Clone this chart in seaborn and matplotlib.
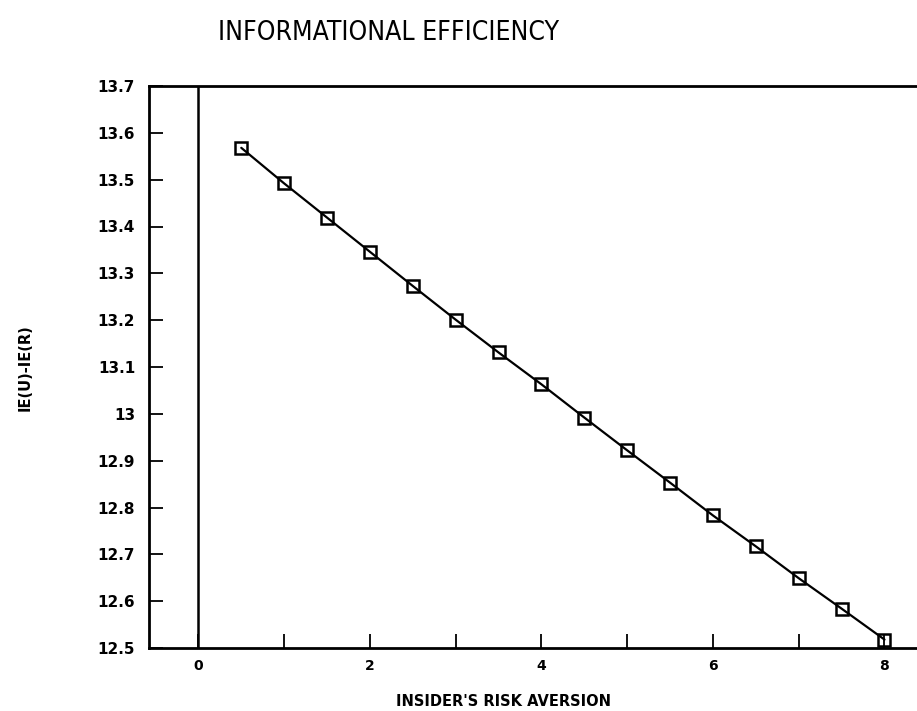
import matplotlib
matplotlib.use("Agg")
import matplotlib.pyplot as plt
from matplotlib.ticker import MultipleLocator, FuncFormatter
import seaborn as sns
import pandas as pd

# Insider's risk aversion and the informational efficiency gap
risk_aversion = [0.5, 1.0, 1.5, 2.0, 2.5, 3.0, 3.5, 4.0,
                 4.5, 5.0, 5.5, 6.0, 6.5, 7.0, 7.5, 8.0]
ie_gap = [13.568, 13.492, 13.419, 13.346, 13.273, 13.201, 13.131, 13.063,
          12.992, 12.922, 12.853, 12.783, 12.717, 12.649, 12.584, 12.518]

y_ticks = [12.5, 12.6, 12.7, 12.8, 12.9, 13.0, 13.1, 13.2, 13.3, 13.4, 13.5, 13.6, 13.7]
x_major = [0, 2, 4, 6, 8]

title_text = "INFORMATIONAL EFFICIENCY"
x_label = "INSIDER'S RISK AVERSION"
y_label = "IE(U)-IE(R)"

sns.set_style("white")
plt.rcParams["font.family"] = ["DejaVu Sans"]
plt.rcParams["text.color"] = "black"

df = pd.DataFrame({"x": risk_aversion, "y": ie_gap})

fig = plt.figure(figsize=(9.17, 7.11), dpi=100)
ax = fig.add_axes([149 / 917, 1 - 648 / 711, 0.845, (648 - 86) / 711])

sns.lineplot(data=df, x="x", y="y", ax=ax, color="black", linewidth=1.6,
             marker="s", markersize=9, markerfacecolor="none",
             markeredgecolor="black", markeredgewidth=1.8)

ax.axvline(0, color="black", linewidth=1.8)

ax.set_xlim(-0.576, 8.459)
ax.set_ylim(12.5, 13.7)

ax.set_yticks(y_ticks)
ax.yaxis.set_major_formatter(FuncFormatter(lambda v, p: f"{v:g}"))
ax.set_xticks(x_major)
ax.xaxis.set_minor_locator(MultipleLocator(1))

ax.tick_params(axis="both", which="both", direction="in", length=10, width=1.3,
               colors="black", bottom=True, left=True, top=False, right=False)
ax.tick_params(axis="x", which="major", pad=8, labelsize=10)
ax.tick_params(axis="y", which="major", pad=10, labelsize=11)
for lbl in ax.get_xticklabels() + ax.get_yticklabels():
    lbl.set_fontweight("bold")

for side in ["left", "top", "bottom"]:
    ax.spines[side].set_linewidth(2)
    ax.spines[side].set_color("black")
ax.spines["right"].set_visible(False)

ax.set_xlabel("")
ax.set_ylabel("")

fig.text(388 / 917, 1 - 33 / 711, title_text, ha="center", va="center",
         fontsize=19, family="DejaVu Sans", fontstretch="condensed",
         fontweight="normal", color="black")
fig.text(504 / 917, 1 - 701 / 711, x_label, ha="center", va="center",
         fontsize=10.5, fontweight="bold", color="black")
fig.text(25 / 917, 1 - 368 / 711, y_label, ha="center", va="center",
         rotation=90, fontsize=10.5, fontweight="bold", color="black")

fig.savefig("out.png", dpi=100)
